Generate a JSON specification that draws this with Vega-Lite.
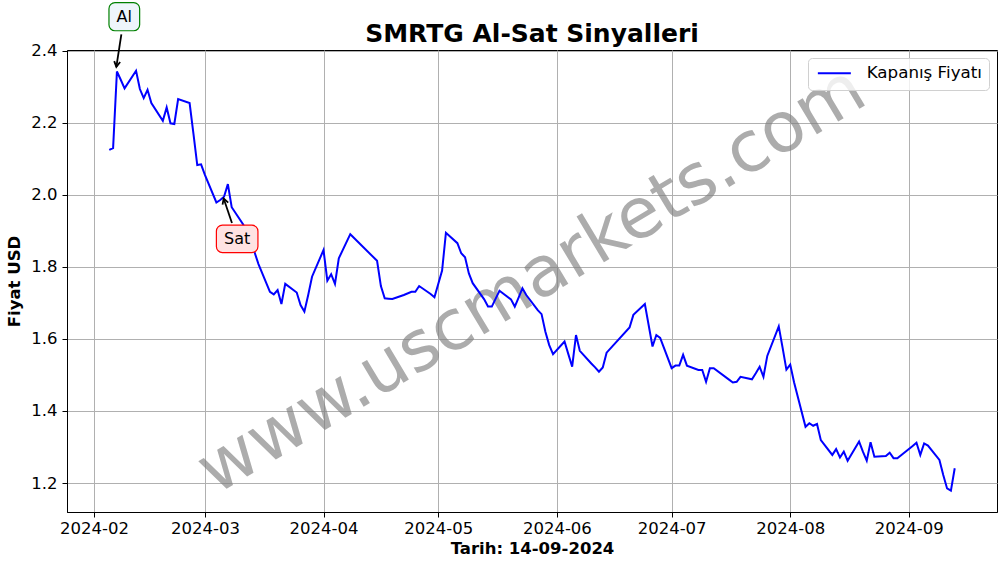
{
  "$schema": "https://vega.github.io/schema/vega-lite/v6.json",
  "width": 930,
  "height": 462,
  "autosize": {"type": "none"},
  "padding": {"left": 67, "top": 50, "right": 9, "bottom": 55},
  "background": "white",
  "title": {"text": "SMRTG Al-Sat Sinyalleri", "fontSize": 25, "font": "DejaVu Sans", "fontWeight": "bold", "color": "black", "anchor": "middle", "frame": "group", "baseline": "alphabetic", "offset": -65},
  "config": {
    "font": "DejaVu Sans",
    "view": {"stroke": "black", "strokeWidth": 1},
    "axis": {"labelFont": "DejaVu Sans", "titleFont": "DejaVu Sans", "labelFontSize": 16.5, "titleFontSize": 16.5, "titleFontWeight": "bold", "labelColor": "black", "titleColor": "black", "tickColor": "black", "domainColor": "black", "tickSize": 5, "tickWidth": 1, "domainWidth": 1, "grid": true, "gridColor": "#b0b0b0", "gridWidth": 1, "gridOpacity": 1},
    "legend": {"orient": "top-right", "offset": 8, "symbolType": "M-1,0L5,0", "symbolStrokeWidth": 2, "symbolSize": 121, "labelFont": "DejaVu Sans", "labelFontSize": 16.7, "labelColor": "black", "labelOffset": 35, "padding": 7, "strokeColor": "#d0d0d0", "fillColor": "rgba(255,255,255,0.8)", "cornerRadius": 4}
  },
  "layer": [
    {
      "data": {"values": [{"wx": "2024-05-25T12:00:00Z", "wy": 1.761, "wt": "www.uscmarkets.com"}]},
      "mark": {"type": "text", "fontSize": 70, "angle": -31, "fill": "#808080", "opacity": 0.65, "align": "center", "baseline": "middle", "font": "DejaVu Sans"},
      "encoding": {
        "x": {"field": "wx", "type": "temporal"},
        "y": {"field": "wy", "type": "quantitative"},
        "text": {"field": "wt"}
      }
    },
    {
      "data": {"values": [
        {"date": "2024-02-05", "close": 2.125},
        {"date": "2024-02-06", "close": 2.130},
        {"date": "2024-02-07", "close": 2.343},
        {"date": "2024-02-08", "close": 2.320},
        {"date": "2024-02-09", "close": 2.296},
        {"date": "2024-02-12", "close": 2.345},
        {"date": "2024-02-13", "close": 2.294},
        {"date": "2024-02-14", "close": 2.269},
        {"date": "2024-02-15", "close": 2.292},
        {"date": "2024-02-16", "close": 2.255},
        {"date": "2024-02-19", "close": 2.206},
        {"date": "2024-02-20", "close": 2.243},
        {"date": "2024-02-21", "close": 2.199},
        {"date": "2024-02-22", "close": 2.197},
        {"date": "2024-02-23", "close": 2.266},
        {"date": "2024-02-26", "close": 2.255},
        {"date": "2024-02-27", "close": 2.170},
        {"date": "2024-02-28", "close": 2.083},
        {"date": "2024-02-29", "close": 2.085},
        {"date": "2024-03-01", "close": 2.056},
        {"date": "2024-03-04", "close": 1.979},
        {"date": "2024-03-05", "close": 1.986},
        {"date": "2024-03-06", "close": 1.995},
        {"date": "2024-03-07", "close": 2.030},
        {"date": "2024-03-08", "close": 1.966},
        {"date": "2024-03-11", "close": 1.918},
        {"date": "2024-03-12", "close": 1.892},
        {"date": "2024-03-13", "close": 1.867},
        {"date": "2024-03-14", "close": 1.840},
        {"date": "2024-03-15", "close": 1.808},
        {"date": "2024-03-18", "close": 1.731},
        {"date": "2024-03-19", "close": 1.724},
        {"date": "2024-03-20", "close": 1.736},
        {"date": "2024-03-21", "close": 1.697},
        {"date": "2024-03-22", "close": 1.753},
        {"date": "2024-03-25", "close": 1.729},
        {"date": "2024-03-26", "close": 1.694},
        {"date": "2024-03-27", "close": 1.676},
        {"date": "2024-03-28", "close": 1.722},
        {"date": "2024-03-29", "close": 1.773},
        {"date": "2024-04-01", "close": 1.847},
        {"date": "2024-04-02", "close": 1.762},
        {"date": "2024-04-03", "close": 1.780},
        {"date": "2024-04-04", "close": 1.753},
        {"date": "2024-04-05", "close": 1.824},
        {"date": "2024-04-08", "close": 1.891},
        {"date": "2024-04-15", "close": 1.817},
        {"date": "2024-04-16", "close": 1.747},
        {"date": "2024-04-17", "close": 1.713},
        {"date": "2024-04-18", "close": 1.712},
        {"date": "2024-04-19", "close": 1.711},
        {"date": "2024-04-22", "close": 1.722},
        {"date": "2024-04-24", "close": 1.731},
        {"date": "2024-04-25", "close": 1.731},
        {"date": "2024-04-26", "close": 1.747},
        {"date": "2024-04-29", "close": 1.725},
        {"date": "2024-04-30", "close": 1.716},
        {"date": "2024-05-02", "close": 1.790},
        {"date": "2024-05-03", "close": 1.895},
        {"date": "2024-05-06", "close": 1.866},
        {"date": "2024-05-07", "close": 1.838},
        {"date": "2024-05-08", "close": 1.827},
        {"date": "2024-05-09", "close": 1.782},
        {"date": "2024-05-10", "close": 1.755},
        {"date": "2024-05-13", "close": 1.710},
        {"date": "2024-05-14", "close": 1.690},
        {"date": "2024-05-15", "close": 1.690},
        {"date": "2024-05-16", "close": 1.712},
        {"date": "2024-05-17", "close": 1.734},
        {"date": "2024-05-20", "close": 1.710},
        {"date": "2024-05-21", "close": 1.690},
        {"date": "2024-05-22", "close": 1.715},
        {"date": "2024-05-23", "close": 1.741},
        {"date": "2024-05-24", "close": 1.722},
        {"date": "2024-05-27", "close": 1.680},
        {"date": "2024-05-28", "close": 1.669},
        {"date": "2024-05-29", "close": 1.620},
        {"date": "2024-05-30", "close": 1.583},
        {"date": "2024-05-31", "close": 1.558},
        {"date": "2024-06-03", "close": 1.593},
        {"date": "2024-06-04", "close": 1.558},
        {"date": "2024-06-05", "close": 1.523},
        {"date": "2024-06-06", "close": 1.611},
        {"date": "2024-06-07", "close": 1.567},
        {"date": "2024-06-10", "close": 1.532},
        {"date": "2024-06-11", "close": 1.521},
        {"date": "2024-06-12", "close": 1.509},
        {"date": "2024-06-13", "close": 1.521},
        {"date": "2024-06-14", "close": 1.562},
        {"date": "2024-06-20", "close": 1.632},
        {"date": "2024-06-21", "close": 1.667},
        {"date": "2024-06-24", "close": 1.697},
        {"date": "2024-06-25", "close": 1.638},
        {"date": "2024-06-26", "close": 1.579},
        {"date": "2024-06-27", "close": 1.611},
        {"date": "2024-06-28", "close": 1.603},
        {"date": "2024-07-01", "close": 1.519},
        {"date": "2024-07-02", "close": 1.526},
        {"date": "2024-07-03", "close": 1.526},
        {"date": "2024-07-04", "close": 1.556},
        {"date": "2024-07-05", "close": 1.526},
        {"date": "2024-07-08", "close": 1.514},
        {"date": "2024-07-09", "close": 1.514},
        {"date": "2024-07-10", "close": 1.481},
        {"date": "2024-07-11", "close": 1.519},
        {"date": "2024-07-12", "close": 1.519},
        {"date": "2024-07-16", "close": 1.487},
        {"date": "2024-07-17", "close": 1.479},
        {"date": "2024-07-18", "close": 1.481},
        {"date": "2024-07-19", "close": 1.495},
        {"date": "2024-07-22", "close": 1.488},
        {"date": "2024-07-23", "close": 1.505},
        {"date": "2024-07-24", "close": 1.523},
        {"date": "2024-07-25", "close": 1.495},
        {"date": "2024-07-26", "close": 1.553},
        {"date": "2024-07-29", "close": 1.635},
        {"date": "2024-07-30", "close": 1.576},
        {"date": "2024-07-31", "close": 1.515},
        {"date": "2024-08-01", "close": 1.529},
        {"date": "2024-08-02", "close": 1.480},
        {"date": "2024-08-05", "close": 1.356},
        {"date": "2024-08-06", "close": 1.366},
        {"date": "2024-08-07", "close": 1.359},
        {"date": "2024-08-08", "close": 1.364},
        {"date": "2024-08-09", "close": 1.319},
        {"date": "2024-08-12", "close": 1.278},
        {"date": "2024-08-13", "close": 1.294},
        {"date": "2024-08-14", "close": 1.271},
        {"date": "2024-08-15", "close": 1.287},
        {"date": "2024-08-16", "close": 1.262},
        {"date": "2024-08-19", "close": 1.315},
        {"date": "2024-08-20", "close": 1.287},
        {"date": "2024-08-21", "close": 1.262},
        {"date": "2024-08-22", "close": 1.313},
        {"date": "2024-08-23", "close": 1.273},
        {"date": "2024-08-26", "close": 1.275},
        {"date": "2024-08-27", "close": 1.284},
        {"date": "2024-08-28", "close": 1.269},
        {"date": "2024-08-29", "close": 1.269},
        {"date": "2024-09-02", "close": 1.303},
        {"date": "2024-09-03", "close": 1.312},
        {"date": "2024-09-04", "close": 1.278},
        {"date": "2024-09-05", "close": 1.310},
        {"date": "2024-09-06", "close": 1.304},
        {"date": "2024-09-09", "close": 1.264},
        {"date": "2024-09-10", "close": 1.222},
        {"date": "2024-09-11", "close": 1.185},
        {"date": "2024-09-12", "close": 1.179},
        {"date": "2024-09-13", "close": 1.241}
      ]},
      "mark": {"type": "line", "strokeWidth": 2},
      "encoding": {
        "x": {
          "field": "date", "type": "temporal",
          "scale": {"type": "utc", "nice": false, "domain": [
            {"year": 2024, "month": 1, "date": 24, "hours": 22, "minutes": 48, "utc": true},
            {"year": 2024, "month": 9, "date": 24, "hours": 1, "minutes": 12, "utc": true}
          ]},
          "axis": {"title": "Tarih: 14-09-2024", "format": "%Y-%m", "tickCount": {"interval": "month", "step": 1}, "labelFlush": false, "labelOverlap": false, "labelPadding": 3, "titlePadding": 4}
        },
        "y": {
          "field": "close", "type": "quantitative",
          "scale": {"domain": [1.1195, 2.4025], "nice": false, "zero": false},
          "axis": {"title": "Fiyat USD", "values": [1.2, 1.4, 1.6, 1.8, 2.0, 2.2, 2.4], "format": ".1f", "labelPadding": 5, "titlePadding": 8}
        },
        "color": {"datum": "Kapanış Fiyatı", "type": "nominal", "scale": {"range": ["#0000ff"]}, "legend": {"title": null}}
      }
    },
    {
      "data": {
        "values": [
          {"label": "Al", "bx": "2024-02-04T22:05:00Z", "bx2": "2024-02-12T22:35:00Z", "by": 2.534, "by2": 2.456, "tx": "2024-02-08T22:20:00Z", "ty": 2.495, "ax": "2024-02-08T03:50:00Z", "ay": 2.4456, "hx": "2024-02-06T20:25:00Z", "hy": 2.3556},
          {"label": "Sat", "bx": "2024-03-04T00:00:00Z", "bx2": "2024-03-14T20:40:00Z", "by": 1.916, "by2": 1.840, "tx": "2024-03-09T10:20:00Z", "ty": 1.878, "ax": "2024-03-08T01:40:00Z", "ay": 1.922, "hx": "2024-03-05T21:35:00Z", "hy": 1.990}
        ],
        "format": {"parse": {"bx": "date", "bx2": "date", "tx": "date", "ax": "date", "hx": "date"}}
      },
      "layer": [
        {
          "mark": {"type": "rect", "cornerRadius": 6, "strokeWidth": 1.2},
          "encoding": {
            "x": {"field": "bx", "type": "temporal"},
            "x2": {"field": "bx2"},
            "y": {"field": "by", "type": "quantitative"},
            "y2": {"field": "by2"},
            "fill": {"field": "label", "type": "nominal", "scale": {"domain": ["Al", "Sat"], "range": ["#eef5fb", "#ffe2e2"]}, "legend": null},
            "stroke": {"field": "label", "type": "nominal", "scale": {"domain": ["Al", "Sat"], "range": ["#008000", "#ff0000"]}, "legend": null}
          }
        },
        {
          "mark": {"type": "rule", "strokeWidth": 1.8, "color": "black"},
          "encoding": {
            "x": {"field": "ax", "type": "temporal"},
            "x2": {"field": "hx"},
            "y": {"field": "ay", "type": "quantitative"},
            "y2": {"field": "hy"}
          }
        },
        {
          "transform": [{"filter": "datum.label === 'Al'"}],
          "mark": {"type": "point", "shape": "M-0.5,0.9L0,0L0.5,0.9", "size": 144, "angle": 188.8, "filled": false, "stroke": "black", "strokeWidth": 1.8, "opacity": 1},
          "encoding": {
            "x": {"field": "hx", "type": "temporal"},
            "y": {"field": "hy", "type": "quantitative"}
          }
        },
        {
          "transform": [{"filter": "datum.label === 'Sat'"}],
          "mark": {"type": "point", "shape": "M-0.5,0.9L0,0L0.5,0.9", "size": 144, "angle": 341.2, "filled": false, "stroke": "black", "strokeWidth": 1.8, "opacity": 1},
          "encoding": {
            "x": {"field": "hx", "type": "temporal"},
            "y": {"field": "hy", "type": "quantitative"}
          }
        },
        {
          "mark": {"type": "text", "fontSize": 16, "font": "DejaVu Sans", "color": "black", "align": "center", "baseline": "middle"},
          "encoding": {
            "x": {"field": "tx", "type": "temporal"},
            "y": {"field": "ty", "type": "quantitative"},
            "text": {"field": "label"}
          }
        }
      ]
    }
  ]
}
